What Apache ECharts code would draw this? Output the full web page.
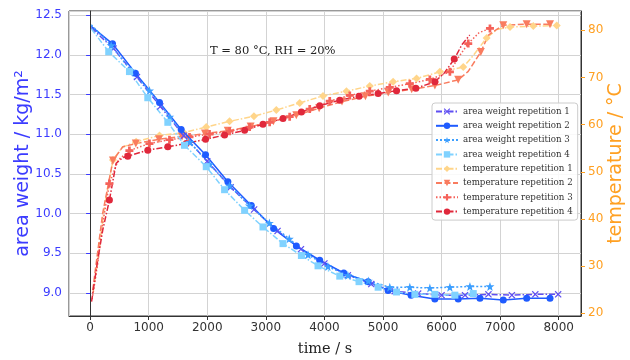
<!DOCTYPE html>
<html><head><meta charset="utf-8">
<script src="https://cdn.jsdelivr.net/npm/echarts@6/dist/echarts.min.js"></script>
<style>html,body{margin:0;padding:0;background:#fff}#c{width:630px;height:360px}</style>
</head><body><div id="c"></div><script>
const seriesNames = [
  'area weight repetition 1','area weight repetition 2','area weight repetition 3','area weight repetition 4',
  'temperature repetition 1','temperature repetition 2','temperature repetition 3','temperature repetition 4'
];
// [time s, area weight kg/m2]
const areaWeightRep1 = [[20,12.34],[400,12.08],[800,11.72],[1200,11.35],[1600,10.98],[2000,10.66],[2400,10.33],[2800,10.05],[3200,9.78],[3600,9.55],[4000,9.37],[4400,9.22],[4800,9.11],[5200,9.02],[5600,8.99],[6000,8.97],[6400,8.97],[6800,8.98],[7200,8.97],[7600,8.98],[7990,8.98]];
const areaWeightRep2 = [[20,12.36],[383,12.14],[774,11.77],[1185,11.40],[1555,11.06],[1971,10.74],[2352,10.40],[2752,10.10],[3133,9.81],[3521,9.59],[3920,9.41],[4330,9.25],[4745,9.14],[5087,9.03],[5480,8.97],[5885,8.92],[6284,8.92],[6655,8.93],[7053,8.91],[7453,8.93],[7851,8.93]];
const areaWeightRep3 = [[20,12.38],[360,12.12],[700,11.80],[1014,11.55],[1360,11.22],[1700,10.90],[2040,10.62],[2380,10.35],[2720,10.10],[3060,9.88],[3400,9.68],[3720,9.48],[4060,9.33],[4400,9.22],[4750,9.15],[5116,9.07],[5458,9.07],[5800,9.06],[6142,9.07],[6484,9.08],[6826,9.08]];
const areaWeightRep4 = [[20,12.33],[318,12.04],[672,11.79],[985,11.46],[1327,11.15],[1612,10.86],[1983,10.59],[2296,10.30],[2638,10.04],[2951,9.83],[3293,9.62],[3607,9.47],[3891,9.34],[4262,9.21],[4591,9.14],[4917,9.07],[5231,9.01],[5544,8.98],[5886,8.98],[6227,8.97],[6541,8.99]];
// [time s, temperature °C]
const temperatureRep1 = [[50,24.3],[150,33.0],[250,43.0],[390,52.5],[550,55.2],[786,56.4],[1185,57.7],[1600,58.3],[1983,59.5],[2381,60.7],[2797,61.8],[3179,63.1],[3578,64.6],[3976,66.1],[4376,67.1],[4774,68.2],[5173,69.1],[5573,69.8],[5971,71.2],[6370,72.2],[6550,74.8],[6769,78.4],[6950,80.2],[7168,80.7],[7566,80.9],[7966,81.0]];
const temperatureRep2 = [[45,24.9],[140,34.0],[215,41.2],[390,52.4],[557,55.3],[780,56.0],[1175,56.9],[1570,57.5],[1960,58.1],[2350,58.7],[2740,59.6],[3130,60.7],[3520,62.0],[3910,63.5],[4300,64.9],[4700,66.0],[5090,66.8],[5490,67.5],[5886,68.3],[6284,69.5],[6455,71.3],[6670,75.4],[6800,79.0],[7053,81.1],[7453,81.3],[7851,81.3]];
const temperatureRep3 = [[35,23.0],[130,30.5],[215,39.0],[329,47.5],[480,52.5],[671,54.5],[1013,56.0],[1355,56.8],[1697,57.4],[2039,58.0],[2381,58.6],[2723,59.5],[3065,60.5],[3407,61.7],[3749,63.3],[4091,65.0],[4433,66.2],[4774,67.1],[5116,67.9],[5458,68.7],[5800,69.6],[6142,71.2],[6300,74.5],[6455,77.2],[6640,79.5],[6826,80.4]];
const temperatureRep4 = [[25,22.5],[130,31.3],[215,37.6],[330,44.0],[444,51.8],[557,53.0],[643,53.3],[985,54.6],[1327,55.3],[1641,56.0],[1971,56.9],[2296,57.8],[2638,58.8],[2951,60.1],[3293,61.3],[3607,62.7],[3920,64.0],[4262,65.2],[4591,66.0],[4917,66.6],[5231,67.2],[5561,67.7],[5886,69.1],[6050,71.0],[6216,73.9],[6350,77.0],[6480,79.0]];
const title = 'T = 80 °C, RH = 20%';
const xName = 'time / s';
const yLeftName = 'area weight / kg/m²';
const yRightName = 'temperature / °C';

const allData = [areaWeightRep1, areaWeightRep2, areaWeightRep3, areaWeightRep4,
  temperatureRep1, temperatureRep2, temperatureRep3, temperatureRep4];

const colors = ['#5f4ff2','#1f5bff','#3d9fff','#80d2ff','#ffd58a','#f97c5f','#f5625a','#e0283b'];
const X_PATH = 'path://M0,1.2L1.2,0L5,3.8L8.8,0L10,1.2L6.2,5L10,8.8L8.8,10L5,6.2L1.2,10L0,8.8L3.8,5Z';
const PLUS_PATH = 'path://M3.3,0H6.7V3.3H10V6.7H6.7V10H3.3V6.7H0V3.3H3.3Z';
const STAR_PATH = 'path://M5,0L6.18,3.4L9.76,3.45L6.9,5.6L7.94,9.05L5,7L2.06,9.05L3.1,5.6L0.24,3.45L3.82,3.4Z';
const symbols = [X_PATH,'circle',STAR_PATH,'rect','diamond','triangle',PLUS_PATH,'circle'];
const symbolSizes = [7,7,9,7,8,8,8,7];
const rotates = [0,0,0,0,0,180,0,0];
const dashes = [[6,2,1.5,2],'solid',[2,2],[6,2,1.5,2],[6,2,1.5,2],[6,2.5],[1.5,2],[6,2,1.5,2]];

function markItems(points, minGap){
  let last = points[0][0];
  return points.map((p,i)=>{
    if(i>0 && p[0]-last>=minGap){ last=p[0]; return {value:p}; }
    return {value:p, symbol:'none'};
  });
}

const series = allData.map((d,i)=>({
  name: seriesNames[i],
  type: 'line',
  yAxisIndex: i<4 ? 0 : 1,
  data: markItems(d, 280),
  symbol: symbols[i],
  symbolSize: symbolSizes[i],
  symbolRotate: rotates[i],
  showSymbol: true,
  color: colors[i],
  lineStyle: {width:1.5, type: dashes[i], color: colors[i]},
  itemStyle: {color: colors[i]},
  z: i<4 ? 3 : 2,
  animation: false
}));

const chart = echarts.init(document.getElementById('c'), null, {renderer:'canvas'});
chart.setOption({
  backgroundColor:'#fff',
  animation:false,
  title:{text:title, left:205, top:40, textStyle:{fontFamily:'DejaVu Serif', fontSize:11.5, fontWeight:'normal', color:'#222'}},
  grid:{left:69, right:49, top:11, bottom:44, containLabel:false, outerBoundsMode:'none', show:true, borderColor:'#333', borderWidth:1, backgroundColor:'transparent'},
  legend:{
    orient:'vertical', left:432, top:103,
    data: seriesNames,
    itemWidth:22, itemHeight:8, itemGap:5.3,
    backgroundColor:'rgba(255,255,255,0.85)', borderColor:'#cccccc', borderWidth:1, borderRadius:3,
    padding:[4,5,4,3],
    textStyle:{fontFamily:'DejaVu Serif', fontSize:8.7, color:'#333'}
  },
  xAxis:{
    type:'value', min:-360, max:8380, splitNumber:8,
    name:xName, nameLocation:'middle', nameGap:26,
    nameTextStyle:{fontFamily:'DejaVu Serif', fontSize:14.5, color:'#222'},
    axisLine:{show:true, lineStyle:{color:'#333'}},
    axisTick:{show:true, inside:false, length:4, lineStyle:{color:'#333'}},
    axisLabel:{showMinLabel:false, showMaxLabel:false, margin:6, fontFamily:'DejaVu Sans', fontSize:12, color:'#333', formatter:v=>String(v)},
    splitLine:{show:true, lineStyle:{color:'#d3d3d3', width:1}}
  },
  yAxis:[{
    type:'value', min:8.707, max:12.554, splitNumber:7, position:'left',
    name:yLeftName, nameLocation:'middle', nameGap:36, nameRotate:90, nameMoveOverlap:false,
    nameTextStyle:{fontFamily:'DejaVu Sans', fontSize:19, color:'#3b3bff'},
    axisLine:{show:true, lineStyle:{color:'#333'}},
    axisTick:{show:true, length:4, lineStyle:{color:'#3b3bff'}},
    axisLabel:{showMinLabel:false, showMaxLabel:false, margin:7, fontFamily:'DejaVu Sans', fontSize:12, color:'#3b3bff', formatter:v=>v.toFixed(1)},
    splitLine:{show:true, lineStyle:{color:'#d3d3d3', width:1}}
  },{
    type:'value', min:19.43, max:84.1, splitNumber:6, position:'right',
    name:yRightName, nameLocation:'middle', nameGap:26, nameRotate:90, nameMoveOverlap:false,
    nameTextStyle:{fontFamily:'DejaVu Sans', fontSize:19, color:'#ffa022'},
    axisLine:{show:true, lineStyle:{color:'#333'}},
    axisTick:{show:true, length:4, lineStyle:{color:'#ffa022'}},
    axisLabel:{showMinLabel:false, showMaxLabel:false, margin:7, fontFamily:'DejaVu Sans', fontSize:12, color:'#ffa022'},
    splitLine:{show:false}
  }],
  series: series
});
</script></body></html>
